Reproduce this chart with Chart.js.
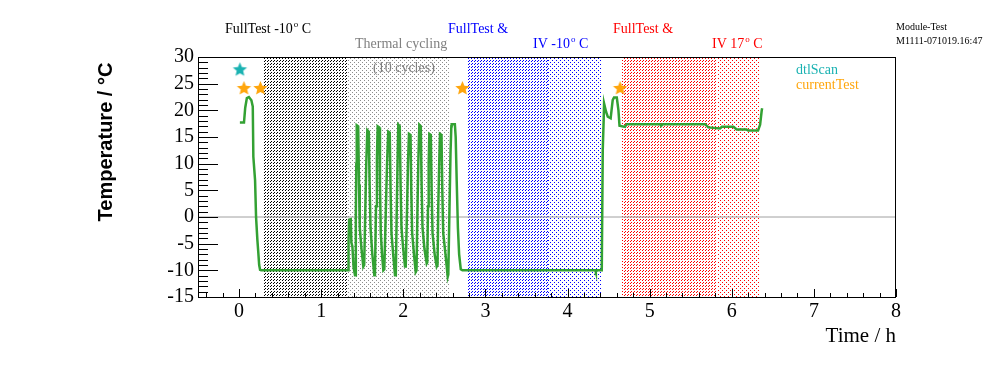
<!DOCTYPE html>
<html>
<head>
<meta charset="utf-8">
<script src="https://cdn.jsdelivr.net/npm/chart.js@4.4.1/dist/chart.umd.min.js"></script>
<style>
  html, body { margin: 0; padding: 0; background: #fff; }
  #wrap { width: 996px; height: 372px; }
</style>
</head>
<body>
<div id="wrap"><canvas id="c" width="996" height="372"></canvas></div>
<script>
// ===== data =====
const timeH = [
  0.010, 0.060, 0.075, 0.095, 0.120, 0.150, 0.167, 0.174, 0.195, 0.207, 0.223, 0.235, 0.245, 0.256, 0.270,
  0.700, 1.330, 1.333, 1.340, 1.360, 1.368, 1.380, 1.395, 1.412,
  1.422, 1.428, 1.433, 1.451, 1.461, 1.470, 1.491, 1.513, 1.524,
  1.537, 1.549, 1.562, 1.580, 1.590, 1.601, 1.623, 1.647, 1.655,
  1.668, 1.679, 1.688, 1.707, 1.716, 1.726, 1.741, 1.757, 1.769,
  1.787, 1.802, 1.817, 1.835, 1.845, 1.856, 1.877, 1.899, 1.909,
  1.921, 1.931, 1.939, 1.957, 1.967, 1.978, 1.999, 2.021, 2.030,
  2.045, 2.057, 2.069, 2.088, 2.097, 2.108, 2.130, 2.151, 2.161,
  2.173, 2.184, 2.195, 2.213, 2.223, 2.234, 2.258, 2.285, 2.292,
  2.301, 2.309, 2.317, 2.335, 2.345, 2.356, 2.382, 2.407, 2.417,
  2.426, 2.437, 2.447, 2.465, 2.475, 2.486, 2.514, 2.541, 2.548,
  2.563, 2.575, 2.585, 2.589, 2.628, 2.638, 2.650, 2.665, 2.680, 2.700, 2.720,
  4.340, 4.345, 4.360, 4.417,
  4.429, 4.440, 4.445, 4.470, 4.490, 4.525, 4.550, 4.566, 4.600, 4.620, 4.633,
  4.700, 4.720, 5.130, 5.140, 5.160, 5.675, 5.715, 5.857, 5.880, 6.020, 6.060,
  6.180, 6.200, 6.320, 6.345, 6.365, 6.370
];
const tempC = [
  17.7, 17.7, 20.5, 22.3, 22.5, 21.9, 20.7, 11.3, 6.9, 0.0, -4.3, -6.8, -9.0, -9.9, -10.0,
  -10.0, -10.0, -4.6, -0.5, -0.4, -4.8, -5.5, -9.5, -10.9,
  0.0, 10.0, 17.2, 17.0, 6.0, -2.0, -6.0, -9.3, -9.0,
  1.0, 10.0, 16.3, 16.0, 6.0, -2.0, -7.0, -10.9, -10.6,
  2.0, 11.0, 17.0, 16.8, 6.0, -3.0, -7.0, -10.0, -9.8,
  1.0, 10.0, 16.0, 15.8, 5.0, -3.0, -7.0, -10.9, -10.6,
  2.0, 11.0, 17.3, 17.0, 6.0, -2.0, -6.0, -9.3, -9.0,
  1.0, 10.0, 15.6, 15.4, 5.0, -3.0, -7.0, -10.3, -10.0,
  2.0, 11.0, 17.3, 17.0, 6.0, -2.0, -6.0, -8.7, -8.5,
  2.0, 10.0, 15.6, 15.4, 5.0, -3.0, -7.0, -9.3, -9.0,
  2.0, 10.0, 15.6, 15.4, 5.0, -3.0, -7.0, -11.2, -10.8,
  2.0, 12.0, 17.0, 17.4, 17.4, 15.0, 7.0, -2.0, -7.0, -9.8, -10.0,
  -10.0, -10.3, -10.0, -10.0,
  12.6, 18.2, 21.3, 19.7, 18.8, 18.5, 21.9, 22.4, 22.4, 20.0, 17.1,
  16.9, 17.4, 17.4, 17.1, 17.4, 17.4, 16.8, 16.6, 16.9, 16.9, 16.4,
  16.4, 16.2, 16.2, 17.3, 20.0, 20.4
];

const dtlScanTime = [0.01];
const dtlScanTemp = [27.6];
const currentTestTime = [0.06, 0.26, 2.72, 4.64];
const currentTestTemp = [24.1, 24.1, 24.1, 24.1];

// shaded test phases (hours)
const bandStart = [0.296, 1.311, 2.784, 3.762, 4.660, 5.817];
const bandEnd   = [1.311, 2.560, 3.762, 4.416, 5.817, 6.331];
const bandColor = ["#000000", "#8c8c8c", "#0000ff", "#0000ff", "#ff0000", "#ff0000"];
const bandKind  = ["hatch", "dots", "hatch", "dots", "hatch", "dots"];

const xTicks = [0, 1, 2, 3, 4, 5, 6, 7, 8];
const yTicks = [-15, -10, -5, 0, 5, 10, 15, 20, 25, 30];

const SERIF = "'Liberation Serif', 'Times New Roman', serif";
const SANS = "'Liberation Sans', Arial, sans-serif";
const GREEN = "#33a133";
const TEAL = "#1ab2b2";
const ORANGE = "#ffa60d";

const canvas = document.getElementById("c");
const mainCtx = canvas.getContext("2d");

// small bitmap tiles like the ROOT fill styles
function makeTile(color, kind) {
  const t = document.createElement("canvas");
  const n = kind === "hatch" ? 3 : 4;
  t.width = n; t.height = n;
  const g = t.getContext("2d");
  g.fillStyle = color;
  const px = kind === "hatch" ? [[1,0],[0,1]] : [[0,0],[2,2]];
  px.forEach(([x, y]) => g.fillRect(x, y, 1, 1));
  return t;
}
const bandTiles = bandColor.map((c, i) => makeTile(c, bandKind[i]));

function makeStar(color, r) {
  const s = document.createElement("canvas");
  const size = Math.ceil(r * 2 + 2);
  s.width = size; s.height = size;
  const g = s.getContext("2d");
  g.fillStyle = color;
  g.beginPath();
  for (let i = 0; i < 10; i++) {
    const rad = i % 2 === 0 ? r : r * 0.45;
    const a = -Math.PI / 2 + i * Math.PI / 5;
    const px = size / 2 + rad * Math.cos(a), py = size / 2 + rad * Math.sin(a);
    if (i === 0) g.moveTo(px, py); else g.lineTo(px, py);
  }
  g.closePath();
  g.fill();
  return s;
}

const X_MIN = -0.5, X_MAX = 8, Y_MIN = -15, Y_MAX = 30;

const datasets = [
  {
    type: "line",
    data: [{ x: X_MIN, y: 0 }, { x: X_MAX, y: 0 }],
    borderColor: "#a0a0a0",
    borderWidth: 1,
    pointRadius: 0,
    fill: false,
    order: 5
  },
  {
    type: "line",
    data: timeH.map((t, i) => ({ x: t, y: tempC[i] })),
    borderColor: GREEN,
    borderWidth: 2.5,
    pointRadius: 0,
    tension: 0,
    fill: false,
    order: 2
  },
  {
    type: "scatter",
    data: dtlScanTime.map((t, i) => ({ x: t, y: dtlScanTemp[i] })),
    pointStyle: makeStar(TEAL, 7.5),
    order: 1
  },
  {
    type: "scatter",
    data: currentTestTime.map((t, i) => ({ x: t, y: currentTestTemp[i] })),
    pointStyle: makeStar(ORANGE, 7.5),
    order: 1
  }
];

// hatched phase bands, placed with the x scale
const bandPlugin = {
  id: "bands",
  beforeDatasetsDraw(chart) {
    const { ctx, chartArea: a, scales: { x } } = chart;
    ctx.save();
    bandStart.forEach((s, i) => {
      const x0 = Math.round(x.getPixelForValue(s));
      const x1 = Math.round(x.getPixelForValue(bandEnd[i]));
      ctx.fillStyle = ctx.createPattern(bandTiles[i], "repeat");
      ctx.fillRect(x0, a.top, x1 - x0, a.bottom - a.top);
    });
    ctx.restore();
  }
};

function supText(ctx, parts, x, y, size, color) {
  // parts: [text, sup, text]
  ctx.fillStyle = color;
  ctx.textAlign = "left";
  ctx.textBaseline = "alphabetic";
  ctx.font = size + "px " + SERIF;
  ctx.fillText(parts[0], x, y);
  let cx = x + ctx.measureText(parts[0]).width;
  ctx.font = Math.round(size * 0.62) + "px " + SERIF;
  ctx.fillText(parts[1], cx + 1, y - size * 0.42);
  cx += ctx.measureText(parts[1]).width + 1;
  ctx.font = size + "px " + SERIF;
  ctx.fillText(parts[2], cx, y);
}

const decorPlugin = {
  id: "decor",
  afterDraw(chart) {
    const { ctx, chartArea: a, scales: { x, y } } = chart;
    ctx.save();
    // frame
    ctx.strokeStyle = "#000";
    ctx.lineWidth = 1;
    ctx.strokeRect(a.left + 0.5, a.top + 0.5, a.right - a.left - 1, a.bottom - a.top);
    // inward ticks
    ctx.beginPath();
    for (let v = -0.4; v <= X_MAX + 1e-6; v += 0.2) {
      const px = Math.round(x.getPixelForValue(v)) + 0.5;
      const major = Math.abs(v - Math.round(v)) < 1e-6;
      ctx.moveTo(px, a.bottom);
      ctx.lineTo(px, a.bottom - (major ? 8 : 4));
    }
    for (let v = Y_MIN; v <= Y_MAX; v += 1) {
      const py = Math.round(y.getPixelForValue(v)) + 0.5;
      const major = v % 5 === 0;
      ctx.moveTo(a.left, py);
      ctx.lineTo(a.left + (major ? 20 : 10), py);
    }
    ctx.stroke();

    // y title
    ctx.save();
    ctx.translate(112, 142);
    ctx.rotate(-Math.PI / 2);
    ctx.font = "bold 20px " + SANS;
    ctx.fillStyle = "#000";
    ctx.textAlign = "center";
    ctx.textBaseline = "alphabetic";
    ctx.fillText("Temperature / °C", 0, 0);
    ctx.restore();

    // phase labels
    supText(ctx, ["FullTest -10", "o", " C"], 225, 33, 14, "#000");
    ctx.font = "14px " + SERIF;
    ctx.textAlign = "left";
    ctx.fillStyle = "#808080";
    ctx.fillText("Thermal cycling", 355, 48);
    ctx.fillText("(10 cycles)", 373, 72);
    ctx.fillStyle = "#0000ff";
    ctx.fillText("FullTest &", 448, 33);
    supText(ctx, ["IV -10", "o", " C"], 533, 48, 14, "#0000ff");
    ctx.fillStyle = "#ff0000";
    ctx.font = "14px " + SERIF;
    ctx.fillText("FullTest &", 613, 33);
    supText(ctx, ["IV 17", "o", " C"], 712, 48, 14, "#ff0000");

    // marker legend
    ctx.font = "14px " + SERIF;
    ctx.fillStyle = TEAL;
    ctx.fillText("dtlScan", 796, 74);
    ctx.fillStyle = ORANGE;
    ctx.fillText("currentTest", 796, 89);

    // stamp
    ctx.font = "10px " + SERIF;
    ctx.fillStyle = "#000";
    ctx.fillText("Module-Test", 896, 29.5);
    ctx.fillText("M1111-071019.16:47", 896, 44);
    ctx.restore();
  }
};

new Chart(mainCtx, {
  data: { datasets },
  options: {
    responsive: false,
    animation: false,
    layout: { padding: { top: 57, right: 100, bottom: 0, left: 0 } },
    plugins: { legend: { display: false }, tooltip: { enabled: false } },
    scales: {
      x: {
        type: "linear",
        min: X_MIN,
        max: X_MAX,
        afterFit: s => { s.height = 75; },
        afterBuildTicks: s => { s.ticks = xTicks.map(v => ({ value: v })); },
        ticks: { autoSkip: false, maxRotation: 0, padding: 3, color: "#000",
                 font: { family: SERIF, size: 20 } },
        grid: { display: false, drawTicks: false },
        border: { display: false },
        title: { display: true, text: "Time / h", align: "end", color: "#000",
                 font: { family: SERIF, size: 21 }, padding: { top: 0, bottom: 23 } }
      },
      y: {
        type: "linear",
        min: Y_MIN,
        max: Y_MAX,
        afterFit: s => { s.width = 198; },
        afterBuildTicks: s => { s.ticks = yTicks.map(v => ({ value: v })); },
        ticks: { autoSkip: false, padding: 4, color: "#000",
                 font: { family: SERIF, size: 20 } },
        grid: { display: false, drawTicks: false },
        border: { display: false }
      }
    }
  },
  plugins: [bandPlugin, decorPlugin]
});
</script>
</body>
</html>
